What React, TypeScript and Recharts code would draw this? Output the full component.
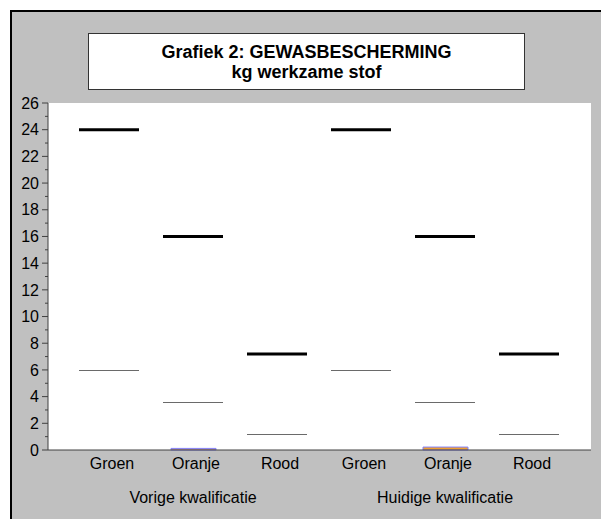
import { ComposedChart, Bar, Scatter, XAxis, YAxis } from "recharts";

const categories = ["Groen", "Oranje", "Rood", "Groen", "Oranje", "Rood"];
const groups = ["Vorige kwalificatie", "Huidige kwalificatie"];
const upperLimit = [24, 16, 7.2, 24, 16, 7.2];
const lowerLimit = [6, 3.6, 1.2, 6, 3.6, 1.2];
const usage = [0, 0.12, 0, 0, 0.22, 0];
const yTicks = [
  0, 1, 2, 3, 4, 5, 6, 7, 8, 9, 10, 11, 12, 13, 14, 15, 16, 17, 18, 19, 20,
  21, 22, 23, 24, 25, 26,
];

const font = "'Liberation Sans', Arial, sans-serif";

const data = categories.map((cat, i) => ({
  cat,
  upper: upperLimit[i],
  lower: lowerLimit[i],
  usage: usage[i],
}));

function YTick({ x, y, payload }: any) {
  const major = payload.value % 2 === 0;
  return (
    <g>
      <line
        x1={major ? x + 2 : x + 5}
        x2={x + 8}
        y1={y}
        y2={y}
        stroke="#404040"
        strokeWidth={1}
      />
      {major && (
        <text
          x={x - 1}
          y={y}
          dy="0.355em"
          textAnchor="end"
          fontFamily={font}
          fontSize={16}
          fill="#000"
        >
          {payload.value}
        </text>
      )}
    </g>
  );
}

function XTick({ x, y, payload, index }: any) {
  const i = payload.index ?? index;
  return (
    <g>
      <text
        x={x + 3}
        y={y}
        dy="0.71em"
        textAnchor="middle"
        fontFamily={font}
        fontSize={16}
        fill="#000"
      >
        {payload.value}
      </text>
      {i % 3 === 1 && (
        <text
          x={x}
          y={y + 45}
          textAnchor="middle"
          fontFamily={font}
          fontSize={16}
          fill="#000"
        >
          {groups[Math.floor(i / 3)]}
        </text>
      )}
    </g>
  );
}

const limitLine = (color: string, width: number) => (props: any) =>
  (
    <line
      x1={props.cx - 30}
      x2={props.cx + 30}
      y1={width === 1 ? Math.round(props.cy) + 0.5 : props.cy}
      y2={width === 1 ? Math.round(props.cy) + 0.5 : props.cy}
      stroke={color}
      strokeWidth={width}
    />
  );

export default function App() {
  return (
    <div
      style={{
        position: "absolute",
        left: 0,
        top: 0,
        width: 601,
        height: 519,
        background: "#fff",
        overflow: "hidden",
      }}
    >
      <div
        style={{
          position: "absolute",
          left: 10,
          top: 10,
          width: 600,
          height: 520,
          background: "#c0c0c0",
          borderLeft: "2px solid #000",
          borderTop: "2px solid #000",
        }}
      />
      {/* white plot background */}
      <div
        style={{
          position: "absolute",
          left: 48,
          top: 103,
          width: 543,
          height: 347,
          background: "#fff",
        }}
      />
      <div
        style={{
          position: "absolute",
          left: 88,
          top: 33,
          width: 437,
          height: 57,
          boxSizing: "border-box",
          background: "#fff",
          border: "1px solid #333",
          display: "flex",
          flexDirection: "column",
          justifyContent: "center",
          alignItems: "center",
          fontFamily: font,
          fontWeight: "bold",
          fontSize: 18,
          lineHeight: "20px",
          color: "#000",
        }}
      >
        <div>Grafiek 2: GEWASBESCHERMING</div>
        <div>kg werkzame stof</div>
      </div>
      <div style={{ position: "absolute", left: 0, top: 0 }}>
        <ComposedChart
          width={601}
          height={519}
          data={data}
          margin={{ top: 103, right: 10, bottom: 9, left: 0 }}
        >
          <XAxis
            dataKey="cat"
            height={60}
            padding={{ left: 19, right: 20 }}
            tickLine={false}
            tickSize={6}
            tickMargin={2}
            interval={0}
            axisLine={{ stroke: "#404040" }}
            tick={<XTick />}
          />
          <YAxis
            type="number"
            domain={[0, 26]}
            ticks={yTicks}
            interval={0}
            width={48}
            tickSize={6}
            tickMargin={2}
            tickLine={false}
            axisLine={{ stroke: "#404040" }}
            tick={<YTick />}
          />
          <Bar
            dataKey="usage"
            barSize={45}
            fill="#f0a030"
            stroke="#8080ff"
            strokeWidth={1}
            isAnimationActive={false}
          />
          <Scatter
            dataKey="lower"
            shape={limitLine("#6a6a6a", 1)}
            isAnimationActive={false}
          />
          <Scatter
            dataKey="upper"
            shape={limitLine("#000", 3)}
            isAnimationActive={false}
          />
        </ComposedChart>
      </div>
    </div>
  );
}
